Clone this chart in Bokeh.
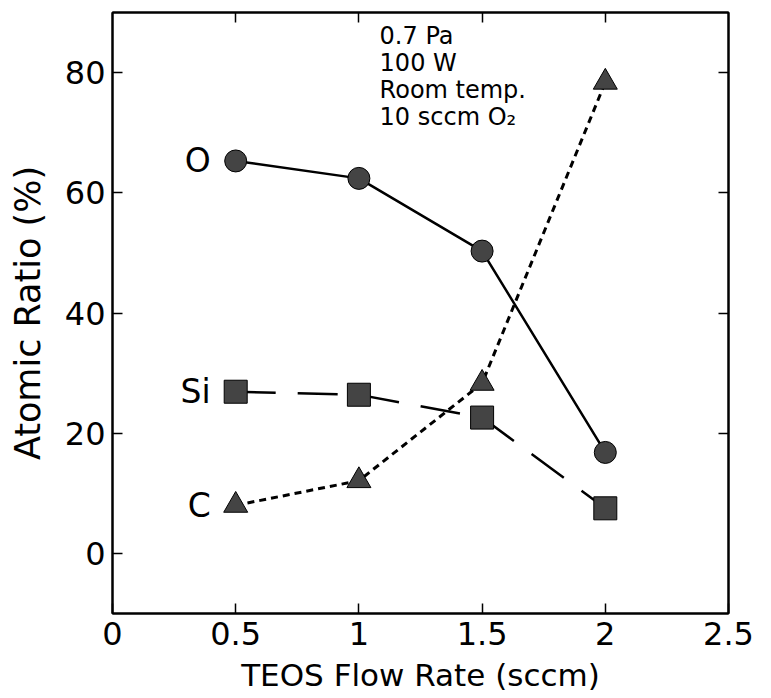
from bokeh.plotting import figure
from bokeh.models import Range1d, FixedTicker, LinearAxis, NumeralTickFormatter
from bokeh.core.properties import value
from bokeh.embed import file_html
from bokeh.resources import INLINE

# ---- data ----
flow = [0.5, 1.0, 1.5, 2.0]              # TEOS flow rate (sccm)
oxygen = [65.3, 62.4, 50.3, 16.8]        # O atomic ratio (%)
silicon = [26.9, 26.4, 22.6, 7.5]        # Si atomic ratio (%)
carbon = [8.0, 12.1, 28.3, 78.4]         # C atomic ratio (%)
series_names = ["O", "Si", "C"]
x_ticks = [0, 0.5, 1, 1.5, 2, 2.5]
y_ticks = [0, 20, 40, 60, 80]
conditions = ["0.7 Pa", "100 W", "Room temp.", "10 sccm O\u2082"]

FONT = "DejaVu Sans"

p = figure(
    frame_width=616, frame_height=601,
    x_range=Range1d(0, 2.5), y_range=Range1d(-10, 90),
    output_backend="svg", toolbar_location=None,
    min_border_left=112, min_border_right=35, min_border_top=12, min_border_bottom=0,
    x_axis_label="TEOS Flow Rate (sccm)", y_axis_label="Atomic Ratio (%)",
)
p.background_fill_color = "white"
p.border_fill_color = "white"
p.outline_line_color = "black"
p.outline_line_width = 2
p.xgrid.visible = False
p.ygrid.visible = False

def style_axis(ax, ticks, show_labels, title_size=None):
    ax.ticker = FixedTicker(ticks=ticks)
    ax.formatter = NumeralTickFormatter(format="0.[0]")
    ax.major_tick_in = 10
    ax.major_tick_out = 0
    ax.minor_tick_line_color = None
    ax.major_tick_line_color = "black"
    ax.major_tick_line_width = 1.5
    ax.axis_line_color = "black"
    ax.axis_line_width = 2
    if show_labels:
        ax.major_label_text_font = FONT
        ax.major_label_text_font_size = "32px"
        ax.major_label_text_color = "black"
        ax.axis_label_text_font = FONT
        ax.axis_label_text_font_style = "normal"
        ax.axis_label_text_color = "black"
        ax.axis_label_text_font_size = title_size
    else:
        ax.major_label_text_color = None
        ax.major_label_text_font_size = "1px"
        ax.major_label_standoff = 0

style_axis(p.xaxis[0], x_ticks, True, "31px")
p.xaxis[0].major_label_standoff = 8
p.xaxis[0].axis_label_standoff = 9
style_axis(p.yaxis[0], y_ticks, True, "35px")
p.yaxis[0].major_label_standoff = 7
p.yaxis[0].axis_label_standoff = 14

top_axis = LinearAxis()
style_axis(top_axis, x_ticks[1:-1], False)
p.add_layout(top_axis, "above")
right_axis = LinearAxis()
style_axis(right_axis, y_ticks[1:], False)
p.add_layout(right_axis, "right")

# ---- lines ----
p.line(flow, oxygen, line_color="black", line_width=2.5)
p.line(flow, silicon, line_color="black", line_width=2.5, line_dash="40 22")
p.line(flow, carbon, line_color="black", line_width=3, line_dash="7 5")

# ---- markers ----
fill = "#444444"
p.scatter(flow, oxygen, marker="circle", size=22, fill_color=fill, line_color="black", line_width=1)
p.scatter(flow, silicon, marker="square", size=23, fill_color=fill, line_color="black", line_width=1)
p.scatter(flow, carbon, marker="triangle", size=24, fill_color=fill, line_color="black", line_width=1)

# ---- series labels next to first points ----
p.text(x=[flow[0]] * 3, y=[oxygen[0], silicon[0], carbon[0]], text=series_names,
       x_offset=-25, text_align="right", text_baseline="middle",
       text_font=value(FONT), text_font_size="33px", text_color="black")

# ---- experimental conditions ----
p.text(x=[1.084] * len(conditions), y=[86.1] * len(conditions), text=conditions,
       y_offset=[i * 27 for i in range(len(conditions))],
       text_align="left", text_baseline="middle",
       text_font=value(FONT), text_font_size="24px", text_color="black")

open("out.html", "w").write(file_html(p, INLINE))
